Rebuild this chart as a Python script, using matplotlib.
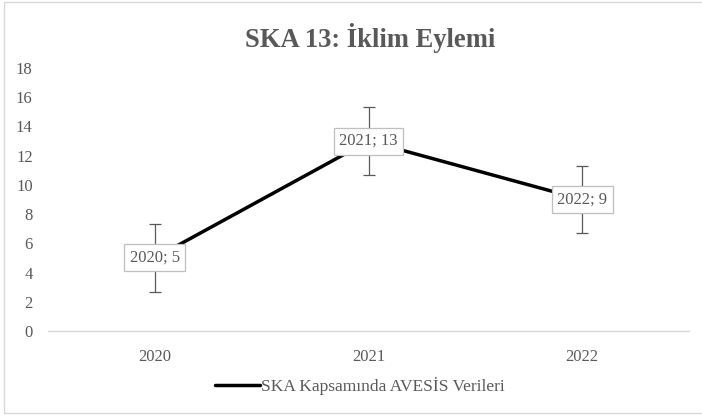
import matplotlib.pyplot as plt
from matplotlib.patches import Rectangle

# Veriler
years = ["2020", "2021", "2022"]
values = [5, 13, 9]
std_err = [2.31, 2.31, 2.31]  # Excel "standart hata" çubukları
y_ticks = [0, 2, 4, 6, 8, 10, 12, 14, 16, 18]

plt.rcParams['font.family'] = ['Liberation Serif', 'DejaVu Serif']
gray = "#595959"

fig = plt.figure(figsize=(7.02, 4.16), dpi=100)
ax = fig.add_axes([48/702, 1 - 331/416, (689 - 48)/702, (331 - 68)/416])

x = list(range(len(years)))
ax.errorbar(x, values, yerr=std_err, fmt="none", ecolor=gray, elinewidth=0.9,
            capsize=4, capthick=0.9, zorder=2)
line, = ax.plot(x, values, color="black", linewidth=2.5, zorder=3,
                solid_capstyle="round")

for xi, v, yr in zip(x, values, years):
    ax.text(xi, v, f"{yr}; {v}", ha="center", va="center", fontsize=12,
            color=gray, zorder=4,
            bbox=dict(boxstyle="square,pad=0.33", fc="white", ec="#bfbfbf", lw=0.9))

ax.set_xlim(-0.5, 2.5)
ax.set_ylim(0, 18)
ax.set_xticks(x)
ax.set_xticklabels(years)
ax.set_yticks(y_ticks)
ax.tick_params(axis="both", length=0, labelsize=12, colors=gray)
ax.tick_params(axis="x", pad=13)
ax.tick_params(axis="y", pad=11)
for side in ["top", "right", "left"]:
    ax.spines[side].set_visible(False)
ax.spines["bottom"].set_color("#d9d9d9")
ax.spines["bottom"].set_linewidth(1)

fig.text(370/702, 1 - 38/416, "SKA 13: İklim Eylemi", ha="center", va="center",
         fontsize=19.2, fontweight="bold", color=gray)

leg = fig.legend([line], ["SKA Kapsamında AVESİS Verileri"], loc="center",
                 bbox_to_anchor=(360/702, 1 - 386/416), frameon=False, fontsize=12.5,
                 handlelength=2.6, handletextpad=0.05, labelcolor=gray)

fig.patches.append(Rectangle((4/702, 3/416), 1.2, 1 - 5/416, transform=fig.transFigure,
                             fill=False, ec="#d9d9d9", lw=1))

fig.savefig("out.png", dpi=100)
